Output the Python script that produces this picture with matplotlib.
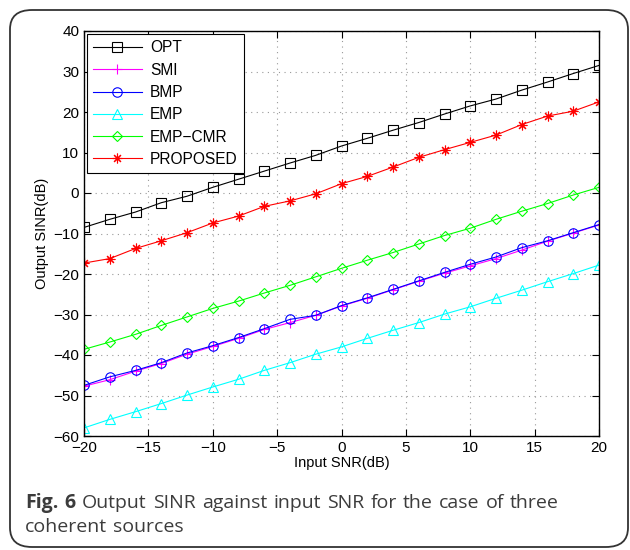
import matplotlib.pyplot as plt
import numpy as np
from matplotlib.patches import FancyBboxPatch

plt.rcParams['font.family'] = ['Liberation Sans', 'DejaVu Sans']

snr = np.arange(-20, 21, 2)

opt = [-8.5, -6.5, -4.7, -2.4, -0.8, 1.4, 3.4, 5.4, 7.4, 9.3, 11.6,
       13.5, 15.5, 17.4, 19.5, 21.5, 23.2, 25.4, 27.4, 29.5, 31.5]
smi = [-47.7, -46.1, -44.0, -42.1, -39.8, -37.9, -35.9, -33.7, -32.0, -30.2, -27.9,
       -26.0, -23.9, -21.8, -19.8, -18.0, -16.2, -14.1, -11.9, -9.9, -7.9]
bmp = [-47.5, -45.4, -43.8, -41.9, -39.5, -37.7, -35.7, -33.5, -31.2, -30.2, -27.8,
       -25.9, -23.8, -21.7, -19.6, -17.6, -15.8, -13.5, -11.8, -9.8, -7.8]
emp = [-58.0, -55.9, -54.0, -52.0, -49.9, -47.9, -46.0, -43.8, -41.9, -39.8, -38.0,
       -35.9, -33.9, -32.0, -29.9, -28.1, -26.0, -24.0, -21.9, -19.9, -17.8]
emp_cmr = [-38.6, -36.8, -34.9, -32.7, -30.6, -28.5, -26.7, -24.7, -22.8, -20.7, -18.6,
           -16.6, -14.7, -12.6, -10.5, -8.7, -6.5, -4.5, -2.6, -0.5, 1.4]
proposed = [-17.3, -16.2, -13.7, -11.8, -9.8, -7.4, -5.7, -3.3, -1.95, -0.2, 2.3,
            4.1, 6.4, 8.8, 10.7, 12.5, 14.3, 16.9, 19.0, 20.2, 22.5]

caption1 = [('Fig.', 'bold'), ('6', 'bold'), ('Output', 'normal'), ('SINR', 'normal'),
            ('against', 'normal'), ('input', 'normal'), ('SNR', 'normal'), ('for', 'normal'),
            ('the', 'normal'), ('case', 'normal'), ('of', 'normal'), ('three', 'normal')]
caption2 = [('coherent', 'normal'), ('sources', 'normal')]

fig = plt.figure(figsize=(6.3, 5.5), dpi=100)
ax = fig.add_axes([84 / 630, 1 - 436 / 550, 515 / 630, 405 / 550])

style = dict(linewidth=0.8, markerfacecolor='none', markeredgewidth=0.8)
ax.plot(snr, opt, color='k', marker='s', markersize=7, label='OPT', **style)
ax.plot(snr, smi, color='#ff00ff', marker='+', markersize=7.5, label='SMI', **style)
ax.plot(snr, bmp, color='#0000ff', marker='o', markersize=6.8, label='BMP', **style)
ax.plot(snr, emp, color='#00ffff', marker='^', markersize=7.4, label='EMP', **style)
ax.plot(snr, emp_cmr, color='#00ff00', marker='D', markersize=5, label='EMP\u2212CMR', **style)
ax.plot(snr, proposed, color='#ff0000', marker=(8, 2, 0), markersize=7, label='PROPOSED', **style)

ax.set_xlim(-20, 20)
ax.set_ylim(-60, 40)
ax.set_xticks(np.arange(-20, 21, 5))
ax.set_yticks(np.arange(-60, 41, 10))
ax.tick_params(direction='in', top=True, right=True, labelsize=11, length=5)
ax.grid(True, linestyle=(0, (1, 4)), color='#999999', linewidth=0.8)
for s in ax.spines.values():
    s.set_linewidth(1.0)

ax.set_xlabel('Input SNR(dB)', fontsize=10.5, labelpad=1)
ax.set_ylabel('Output SINR(dB)', fontsize=10.5, labelpad=3)

leg = ax.legend(loc='upper left', fontsize=11.2, fancybox=False, edgecolor='k',
                framealpha=1, borderaxespad=0.2, handlelength=3.1,
                labelspacing=0.47, borderpad=0.4, handletextpad=0.55)
leg.get_frame().set_linewidth(0.8)

box = FancyBboxPatch((10 / 630, 3 / 550), 618 / 630, 537 / 550,
                     boxstyle='round,pad=0,rounding_size=0.035',
                     transform=fig.transFigure, fill=False,
                     edgecolor='#333333', linewidth=1.3, clip_on=False)
fig.patches.append(box)

# caption, justified word by word like the journal layout
fig.canvas.draw()
renderer = fig.canvas.get_renderer()


def place_words(words, y, x0, x1=None, gap=None):
    texts = [fig.text(0, 1 - y / 550, w, fontsize=14, family='Open Sans',
                      fontweight=wt, color='#3c3c3c', va='baseline')
             for w, wt in words]
    widths = [t.get_window_extent(renderer).width for t in texts]
    if gap is None:
        gap = (x1 - x0 - sum(widths)) / (len(words) - 1)
    x = x0
    for t, w in zip(texts, widths):
        t.set_x(x / 630)
        x += w + gap
    return gap


g = place_words(caption1, 508, 25, 559)
place_words(caption2, 532, 25, gap=g)

fig.savefig('out.png', dpi=100)
